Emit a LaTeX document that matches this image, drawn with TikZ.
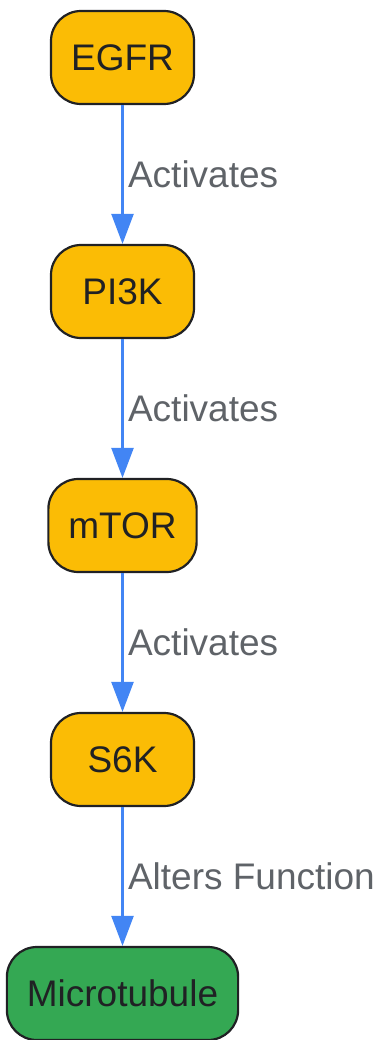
\documentclass[tikz,border=0pt]{standalone}
\usepackage{fontspec}
\setmainfont{Liberation Sans}
\usetikzlibrary{arrows.meta,positioning}

\definecolor{kinase}{HTML}{FBBC05}
\definecolor{target}{HTML}{34A853}
\definecolor{edgeblue}{HTML}{4285F4}
\definecolor{labelgray}{HTML}{5F6368}
\definecolor{ink}{HTML}{202124}

\begin{document}
\begin{tikzpicture}[
			x=1pt, y=1pt,
			node distance=138.8pt,
			protein/.style={draw=ink, line width=2.2pt, rounded corners=30pt,
				fill=kinase, text=ink, font={\fontsize{37}{40}\selectfont},
				minimum width=143pt, minimum height=93pt, inner xsep=20pt},
			effector/.style={protein, fill=target},
			signal/.style={draw=edgeblue, line width=2.4pt,
				-{Triangle[width=22pt,length=30pt]}},
			effect/.style={text=labelgray, font={\fontsize{37}{40}\selectfont},
				anchor=west, xshift=1pt}
	]
	\useasboundingbox (0,0) rectangle (377,-1040);

	\node[protein] (egfr) at (122.5,-57.5) {EGFR};
	\node[protein, below=of egfr] (pi3k) {PI3K};
	\node[protein, below=of pi3k] (mtor) {mTOR};
	\node[protein, below=of mtor] (s6k) {S6K};
	\node[effector, below=of s6k] (micro) {Microtubule};

	\draw[signal] (egfr) -- node[effect] {Activates} (pi3k);
	\draw[signal] (pi3k) -- node[effect] {Activates} (mtor);
	\draw[signal] (mtor) -- node[effect] {Activates} (s6k);
	\draw[signal] (s6k) -- node[effect] {Alters Function} (micro);
\end{tikzpicture}
\end{document}
